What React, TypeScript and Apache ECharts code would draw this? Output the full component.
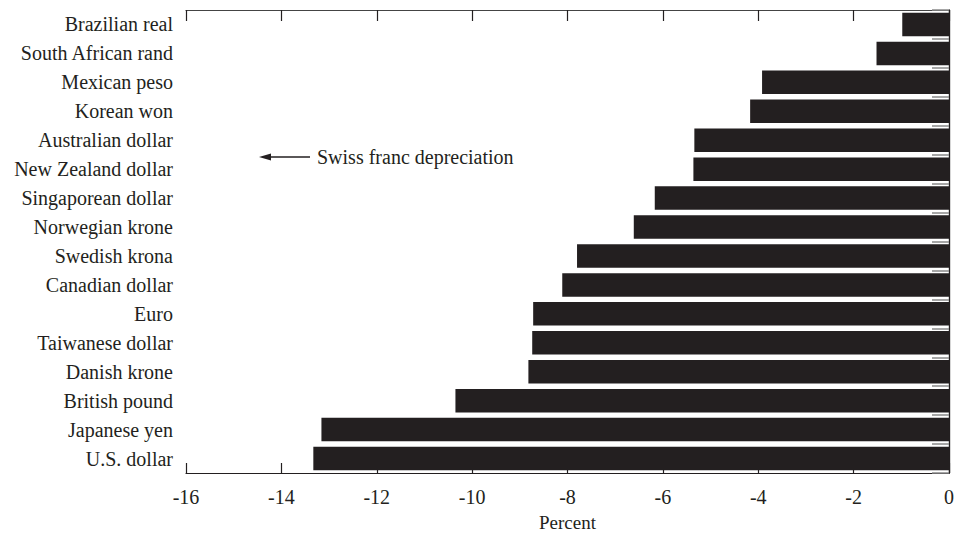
import React, { useEffect, useRef } from "react";
import * as echarts from "echarts";

const categories = [
  "Brazilian real",
  "South African rand",
  "Mexican peso",
  "Korean won",
  "Australian dollar",
  "New Zealand dollar",
  "Singaporean dollar",
  "Norwegian krone",
  "Swedish krona",
  "Canadian dollar",
  "Euro",
  "Taiwanese dollar",
  "Danish krone",
  "British pound",
  "Japanese yen",
  "U.S. dollar",
];

const values = [
  -0.98, -1.52, -3.92, -4.17, -5.34, -5.36, -6.17, -6.61, -7.8, -8.11, -8.72,
  -8.74, -8.82, -10.35, -13.16, -13.33,
];

const xMin = -16;
const xMax = 0;
const xInterval = 2;
const axisName = "Percent";
const annotation = "Swiss franc depreciation";

const INK = "#231f20";
const FONT = "'Liberation Serif', 'DejaVu Serif', serif";

export default function App() {
  const ref = useRef<HTMLDivElement>(null);
  useEffect(() => {
    document.body.style.margin = "0";
    document.body.style.overflow = "hidden";
    const chart = echarts.init(ref.current!, null, { renderer: "svg" });
    chart.setOption({
      animation: false,
      backgroundColor: "#ffffff",
      textStyle: { fontFamily: FONT, color: INK },
      grid: { left: 186, right: 4, top: 10, bottom: 53, containLabel: false },
      xAxis: [
        {
          type: "value",
          position: "bottom",
          min: xMin,
          max: xMax,
          interval: xInterval,
          name: axisName,
          nameLocation: "middle",
          nameGap: 40,
          nameTextStyle: { fontFamily: FONT, fontSize: 19, color: INK },
          axisLine: { show: true, lineStyle: { color: INK, width: 1.2 } },
          axisTick: { show: true, inside: true, length: 10, lineStyle: { color: INK, width: 1.2 } },
          axisLabel: { fontFamily: FONT, fontSize: 20, color: INK, margin: 14 },
          splitLine: { show: false },
        },
        {
          type: "value",
          position: "top",
          min: xMin,
          max: xMax,
          interval: xInterval,
          axisLine: { show: true, lineStyle: { color: "#444", width: 1.2 } },
          axisTick: { show: true, inside: true, length: 11, lineStyle: { color: INK, width: 1.2 } },
          axisLabel: { show: false },
          splitLine: { show: false },
        },
      ],
      yAxis: [
        {
          type: "category",
          position: "left",
          data: categories,
          inverse: true,
          axisLine: { show: true, lineStyle: { color: INK, width: 1.2 } },
          axisTick: { show: false },
          axisLabel: { fontFamily: FONT, fontSize: 20, color: INK, margin: 13 },
        },
        {
          type: "category",
          position: "right",
          data: categories,
          inverse: true,
          axisLine: { show: true, lineStyle: { color: INK, width: 1.2 } },
          axisTick: { show: true, inside: true, length: 17, lineStyle: { color: "#888", width: 1.5 } },
          axisLabel: { show: false },
        },
      ],
      series: [
        {
          type: "bar",
          data: values,
          xAxisIndex: 0,
          yAxisIndex: 0,
          barCategoryGap: "19%",
          itemStyle: { color: INK },
        },
      ],
      graphic: [
        {
          type: "line",
          shape: { x1: 266, y1: 157, x2: 310, y2: 157 },
          style: { stroke: INK, lineWidth: 1.5 },
        },
        {
          type: "polygon",
          shape: { points: [[259, 157], [271, 153.5], [271, 160.5]] },
          style: { fill: INK },
        },
        {
          type: "text",
          x: 317,
          y: 157,
          style: {
            text: annotation,
            fontFamily: FONT,
            fontSize: 20,
            fill: INK,
            verticalAlign: "middle",
          },
        },
      ],
    });
    return () => chart.dispose();
  }, []);
  return (
    <div
      ref={ref}
      style={{ position: "fixed", left: 0, top: 0, width: "100vw", height: "100vh" }}
    />
  );
}
